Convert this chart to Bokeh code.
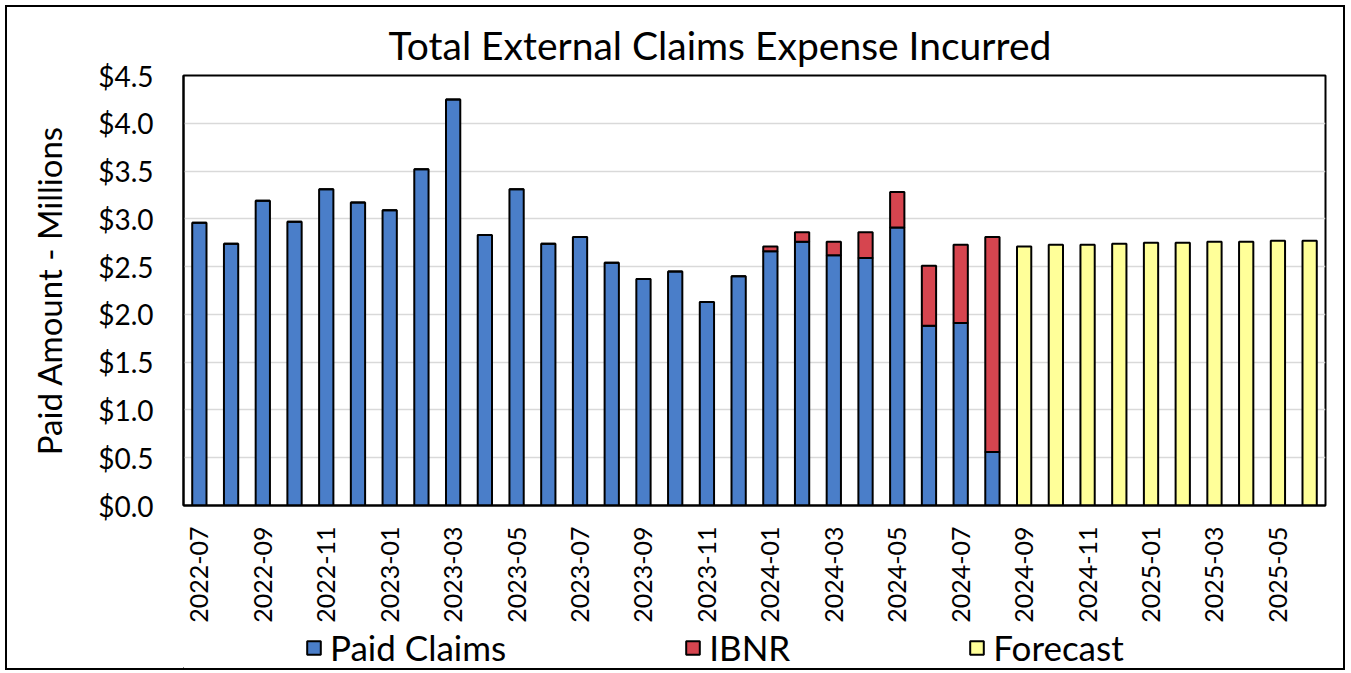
import math
from bokeh.plotting import figure
from bokeh.layouts import column
from bokeh.models import FixedTicker, NumeralTickFormatter, Legend, LegendItem, ColumnDataSource
from bokeh.embed import file_html
from bokeh.resources import INLINE

months = ["2022-07","2022-08","2022-09","2022-10","2022-11","2022-12",
          "2023-01","2023-02","2023-03","2023-04","2023-05","2023-06",
          "2023-07","2023-08","2023-09","2023-10","2023-11","2023-12",
          "2024-01","2024-02","2024-03","2024-04","2024-05","2024-06",
          "2024-07","2024-08","2024-09","2024-10","2024-11","2024-12",
          "2025-01","2025-02","2025-03","2025-04","2025-05","2025-06"]
paid = [2.96, 2.74, 3.19, 2.97, 3.31, 3.17, 3.09, 3.52, 4.25, 2.83, 3.31, 2.74,
        2.81, 2.54, 2.37, 2.45, 2.13, 2.40, 2.66, 2.76, 2.62, 2.59, 2.91, 1.88,
        1.91, 0.56]
ibnr = [0, 0, 0, 0, 0, 0, 0, 0, 0, 0, 0, 0,
        0, 0, 0, 0, 0, 0, 0.05, 0.10, 0.14, 0.27, 0.37, 0.63,
        0.82, 2.25]
forecast = [2.71, 2.73, 2.73, 2.74, 2.75, 2.75, 2.76, 2.76, 2.77, 2.77]
y_ticks = [0, 0.5, 1.0, 1.5, 2.0, 2.5, 3.0, 3.5, 4.0, 4.5]
series = ["Paid Claims", "IBNR", "Forecast"]

FONT = "Lato"
BLUE = "#4a7ec9"
RED = "#d6454f"
YELLOW = "#ffff99"

n_act = len(paid)
x_act = list(range(n_act))
x_fc = list(range(n_act, n_act + len(forecast)))

W = 1336
H1, H2 = 618, 43
OFF = 7  # page offset of the content (margin 5 + border 2)
p = figure(width=W, height=H1, x_range=(-0.5, len(months) - 0.5), y_range=(0, 4.5),
           output_backend="svg", toolbar_location=None,
           title="Total External Claims Expense Incurred",
           min_border_left=183 - OFF, min_border_right=W - (1325 - OFF), min_border_top=75 - OFF,
           min_border_bottom=H1 - (509 - OFF))
p.title.align = "left"
p.title.offset = 205
p.title.text_font = FONT
p.title.text_font_size = "39px"
p.title.text_font_style = "normal"
p.title.text_color = "black"
p.title.standoff = 16

src_act = ColumnDataSource(dict(x=x_act, paid=paid, ibnr=ibnr,
                                top=[a + b for a, b in zip(paid, ibnr)]))
src_fc = ColumnDataSource(dict(x=x_fc, fc=forecast))

w = 0.45
styles = [dict(fill_color=BLUE, line_color="black", line_width=2),
          dict(fill_color=RED, line_color="black", line_width=2),
          dict(fill_color=YELLOW, line_color="black", line_width=2)]
p.vbar(x="x", top="paid", bottom=0, width=w, source=src_act, **styles[0])
p.vbar(x="x", top="top", bottom="paid", width=w, source=src_act, **styles[1])
p.vbar(x="x", top="fc", bottom=0, width=w, source=src_fc, **styles[2])

p.outline_line_color = "black"
p.outline_line_width = 2
p.xgrid.grid_line_color = None
p.ygrid.grid_line_color = "#d9d9d9"
p.ygrid.grid_line_width = 1.5

p.yaxis.ticker = FixedTicker(ticks=y_ticks)
p.yaxis.formatter = NumeralTickFormatter(format="$0.0")
p.yaxis.major_label_text_font = FONT
p.yaxis.major_label_text_font_size = "28px"
p.yaxis.major_label_text_color = "black"
p.yaxis.major_tick_line_color = None
p.yaxis.minor_tick_line_color = None
p.yaxis.axis_line_color = "black"
p.yaxis.axis_line_width = 2
p.yaxis.major_label_standoff = 24
p.yaxis.axis_label = "Paid Amount - Millions"
p.yaxis.axis_label_text_font = FONT
p.yaxis.axis_label_text_font_size = "33px"
p.yaxis.axis_label_text_font_style = "normal"
p.yaxis.axis_label_text_color = "black"
p.yaxis.axis_label_standoff = 26

even = list(range(0, len(months), 2))
p.xaxis.ticker = FixedTicker(ticks=even)
p.xaxis.major_label_overrides = {i: months[i] for i in even}
p.xaxis.major_label_orientation = math.pi / 2
p.xaxis.major_label_text_font = FONT
p.xaxis.major_label_text_font_size = "25px"
p.xaxis.major_label_text_color = "black"
p.xaxis.major_tick_line_color = None
p.xaxis.minor_tick_line_color = None
p.xaxis.axis_line_color = "black"
p.xaxis.axis_line_width = 2
p.xaxis.major_label_standoff = 15

# legend strip below the chart (its frame is aligned with the chart's frame)
leg = figure(width=W, height=H2, x_range=(0, 1), y_range=(0, 1),
             output_backend="svg", toolbar_location=None, min_border=0)
leg.axis.visible = False
leg.grid.visible = False
leg.outline_line_color = None
items = []
for name, st in zip(series, styles):
    # swatch-only renderer, its single bar lies far outside the strip's ranges
    r = leg.vbar(x=[-50], bottom=[-50], top=[-49], width=0.1, **st)
    items.append(LegendItem(label=name, renderers=[r]))
legend = Legend(items=items, orientation="horizontal", location=(305 - 183, 0))
legend.label_text_font = FONT
legend.label_text_font_size = "35px"
legend.label_text_color = "black"
legend.glyph_width = 17
legend.glyph_height = 17
legend.spacing = 178
legend.border_line_color = None
legend.background_fill_alpha = 0
legend.padding = 0
legend.margin = 0
legend.label_standoff = 8
leg.add_layout(legend)

layout = column(p, leg, spacing=0,
                styles={"border": "2px solid black", "margin-left": "5px", "margin-top": "5px"})

open("out.html", "w").write(file_html(layout, INLINE))
